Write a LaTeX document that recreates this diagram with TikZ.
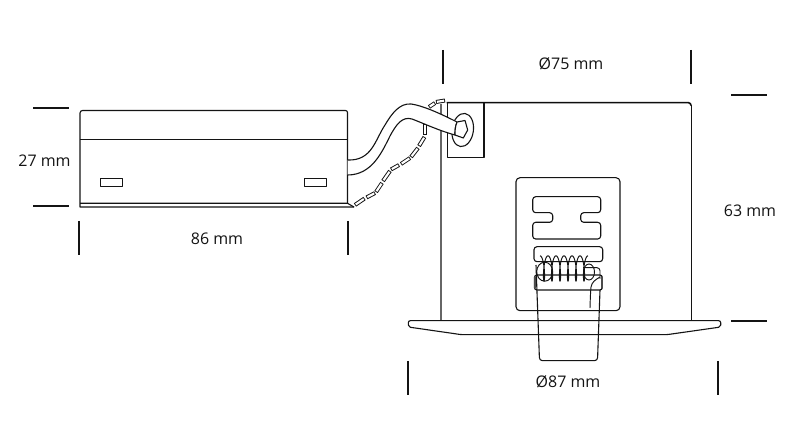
\documentclass[tikz,border=0pt]{standalone}
\usepackage{fontspec}
\setmainfont{Open Sans}
\tikzset{
  ln/.style={line width=1.1bp,draw=black!92,line join=round},
  thin ln/.style={line width=.95bp,draw=black!92,line join=round},
  grey ln/.style={line width=1.2bp,draw=black!60},
  tick/.style={line width=2.2bp,draw=black!92},
  dim/.style={font=\fontsize{16bp}{19bp}\selectfont,text=black!92,inner sep=0pt},
}
\newcommand{\chainlink}[2]{%
  \draw[line width=4bp,draw=black!92] (#1)--(#2);
  \draw[line width=2.1bp,draw=white,shorten <=.9bp,shorten >=.9bp] (#1)--(#2);}
\begin{document}
\begin{tikzpicture}[x=1bp,y=-1bp]
\useasboundingbox (0,0) rectangle (800,447);
\fill[white] (0,0) rectangle (800,447);
% dimension ticks
\foreach \a/\b/\c/\d in {443/50/443/84,691/50/691/84,79/221/79/255,348/221/348/255,408/361/408/395,718/361/718/395,33/108/69/108,33/206/69/206,731/95/767/95,731/321/767/321}
  \draw[tick] (\a,\b)--(\c,\d);
\node[dim] (d75) at (571,64) {Ø75 mm};
\node[dim] (d27) at (44.5,160.5) {27 mm};
\node[dim] (d86) at (217,238.5) {86 mm};
\node[dim] (d63) at (750,210.5) {63 mm};
\node[dim] (d87) at (568,381.5) {Ø87 mm};
% driver box
\draw[ln] (354,207) -- (80,207) -- (80,113) arc[start angle=180,end angle=270,radius=2.5] -- (345.5,110.5) arc[start angle=270,end angle=360,radius=2] -- (347.5,203.3);
\draw[ln] (80,139.5)--(347.5,139.5);
\draw[ln] (80,203.3)--(347.5,203.3)--(354,207);
\draw[thin ln] (100.7,178) rectangle (122.7,186.7);
\draw[thin ln] (304.5,178) rectangle (326.5,186.7);
% housing
\draw[grey ln] (441,104)--(441,320.5);
\draw[line width=1.6bp,draw=black!95] (446.5,102.7)--(688.5,102.7) to[out=0,in=90] (691,105.5);
\draw[thin ln] (691,105.5)--(691,320.5);
\draw[ln] (447.7,103)--(447.7,157.3)--(484,157.3)--(484,103);
% chain
\chainlink{355,205}{364.5,198.5}
\chainlink{366.5,197.5}{375,193}
\chainlink{376,192}{382,183}
\chainlink{383,181}{390,171}
\chainlink{391,169.5}{399,165}
\chainlink{401,164}{410,158}
\chainlink{411,157}{418,148}
\chainlink{419,146}{424.5,137}
\chainlink{425,135}{425,124}
\chainlink{429,107}{435,103}
\chainlink{436,102}{445,100.5}
% gland
\draw[ln,fill=white,rotate around={-8:(462.7,130)}] (462.7,130) ellipse[x radius=10.7,y radius=16.7];
% cable
\draw[ln,fill=white] (347.5,160) .. controls (372,161) and (375,140) .. (385,125)
  .. controls (392,113) and (400,103) .. (411,104)
  .. controls (425,106) and (445,116) .. (457,122)
  .. controls (455,127) and (455,131) .. (455,135)
  .. controls (440,131) and (425,124) .. (412,119)
  .. controls (402,116) and (396,125) .. (390,136)
  .. controls (382,152) and (372,175) .. (347.5,175);
\draw[ln,fill=white] (457,122) -- (465,120.5) -- (467.7,130) -- (463.3,138) -- (455,135) .. controls (455,131) and (455,127) .. (457,122);
% panel
\draw[ln,rounded corners=4bp] (516,177.7) rectangle (620,310.7);
\draw[ln,rounded corners=3bp] (532.7,196.7) -- (600.7,196.7) -- (600.7,212.7) -- (580.7,212.7) -- (580.7,222.3) -- (600.7,222.3) -- (600.7,239) -- (532.7,239) -- (532.7,222.3) -- (552.7,222.3) -- (552.7,212.7) -- (532.7,212.7) -- cycle;
\draw[ln,rounded corners=3bp] (534,246.7) rectangle (602.7,261.7);
% spring
\draw[thin ln] plot[smooth,samples=300,domain=0:2160,variable=\t]
  ({540+\t/360*8+2.2*sin(\t)},{268.5-12.7*cos(\t)});
\draw[thin ln] (544.7,271.7) ellipse[x radius=8,y radius=9.5];
\draw[thin ln] (589,272) ellipse[x radius=5.5,y radius=8];
\draw[thin ln,rounded corners=3bp] (600,279) -- (600,267.7) -- (583,267.7);
\draw[thin ln] (590,308) .. controls (590.3,298) and (590.5,292) .. (591,287) .. controls (592,282) and (595,280) .. (600,277);
% clip
\draw[line width=1.2bp,draw=black!92,rounded corners=2.5bp] (534.5,275) rectangle (602.3,290);
\draw[line width=2.4bp,draw=black!70] (534.7,277)--(534.7,288);
\draw[line width=2.4bp,draw=black!70] (602.2,277)--(602.2,288);
\draw[ln,rounded corners=3bp] (536,265) -- (539.5,360.7) -- (597.5,360.7) -- (600,290);
% flange
\draw[ln,rounded corners=2bp] (461.7,334.7) -- (666.7,334.7) -- (720.7,327) -- (720.7,320.7) -- (408.3,320.7) -- (408.3,327) -- cycle;
\end{tikzpicture}
\end{document}
